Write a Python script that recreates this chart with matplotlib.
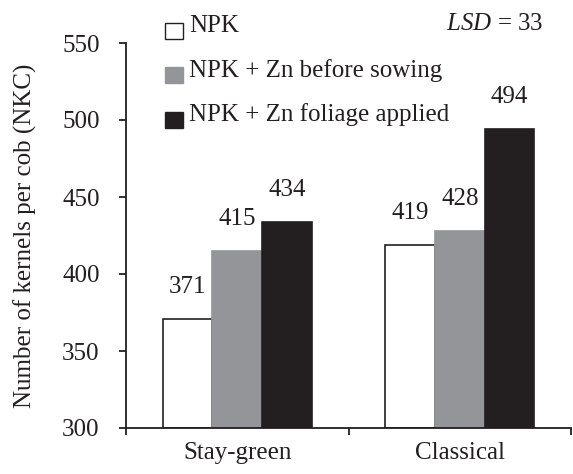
import matplotlib
matplotlib.use("Agg")
import matplotlib.pyplot as plt
from matplotlib.patches import Rectangle
import numpy as np

categories = ["Stay-green", "Classical"]
series_names = ["NPK", "NPK + Zn before sowing", "NPK + Zn foliage applied"]
npk = [371, 419]
npk_zn_sowing = [415, 428]
npk_zn_foliage = [434, 494]
y_ticks = [300, 350, 400, 450, 500, 550]
lsd_value = 33

plt.rcParams['font.family'] = ['Liberation Serif', 'DejaVu Serif']
plt.rcParams['mathtext.fontset'] = 'custom'
plt.rcParams['mathtext.rm'] = 'Liberation Serif'
plt.rcParams['mathtext.it'] = 'Liberation Serif:italic'
FS = 18

fig = plt.figure(figsize=(5.73, 4.74), dpi=100)
W, H = 573, 474
ax = fig.add_axes([126 / W, (H - 428) / H, (571 - 126) / W, (428 - 43) / H])

colors = ["white", "#939598", "#231f20"]
edges = ["#231f20", "#939598", "#231f20"]
series = [npk, npk_zn_sowing, npk_zn_foliage]
bw = 0.2225
x = np.arange(len(categories))
for i, (vals, c, e) in enumerate(zip(series, colors, edges)):
    pos = x + (i - 1) * bw
    ax.bar(pos, np.array(vals) - 300, bottom=300, width=bw, color=c,
           edgecolor=e, linewidth=1.2, zorder=2)
    for xp, v in zip(pos, vals):
        ax.annotate(str(v), (xp, v), xytext=(0, 23), textcoords="offset points",
                    ha="center", va="center", fontsize=FS, color="#231f20")

ax.set_xlim(-0.5, 1.5)
ax.set_ylim(300, 550)
ax.set_yticks(y_ticks)
ax.set_yticklabels([str(t) for t in y_ticks], fontsize=FS, color="#231f20")
ax.set_xticks([-0.5, 0.5, 1.5])
ax.set_xticklabels([])
ax.set_xticks(x, minor=True)
ax.set_xticklabels(categories, minor=True, fontsize=FS, color="#231f20")
ax.tick_params(axis="x", which="minor", length=0, pad=10)
ax.tick_params(axis="x", which="major", length=5, width=1.3, direction="out", color="#231f20")
ax.tick_params(axis="y", length=5, width=1.3, direction="out", pad=14, color="#231f20")
for s in ["top", "right"]:
    ax.spines[s].set_visible(False)
for s in ["left", "bottom"]:
    ax.spines[s].set_linewidth(1.3)
    ax.spines[s].set_color("#231f20")
ax.set_ylabel("Number of kernels per cob (NKC)", fontsize=18, color="#231f20")
ax.yaxis.set_label_coords(-(126 - 37) / (571 - 126), 0.5)

# legend (manual)
sq = 16
leg_rows = [(23, 26), (67, 71), (112, 115)]
for (top, tc), name, c, e in zip(leg_rows, series_names, colors, edges):
    fig.add_artist(Rectangle((165 / W, (H - top - sq) / H), 18 / W, sq / H,
                             transform=fig.transFigure, facecolor=c,
                             edgecolor=e, linewidth=1.0))
    fig.text(189 / W, (H - tc) / H, name, fontsize=FS, va="center", ha="left",
             color="#231f20")

fig.text(543 / W, (H - 24) / H, r"$\mathit{LSD}$" + f" = {lsd_value}", fontsize=FS,
         va="center", ha="right", color="#231f20")

fig.savefig("out.png", dpi=100)
